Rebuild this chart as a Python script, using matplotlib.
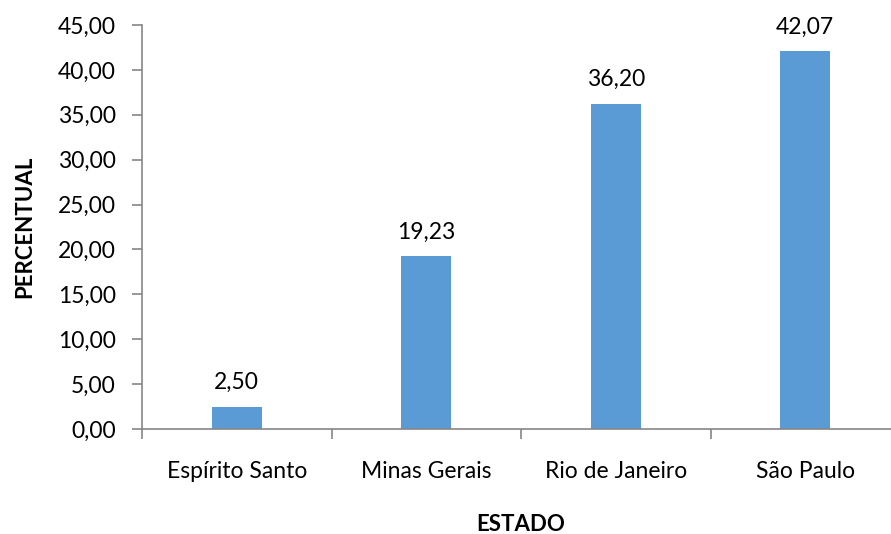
import matplotlib
matplotlib.use('Agg')
import matplotlib.pyplot as plt
from matplotlib.ticker import FixedLocator, FuncFormatter

plt.rcParams['font.family'] = ['Lato', 'DejaVu Sans']

estados = ['Espírito Santo', 'Minas Gerais', 'Rio de Janeiro', 'São Paulo']
percentual = [2.50, 19.23, 36.20, 42.07]

BAR_COLOR = '#5B9BD5'
AXIS_COLOR = '#868686'
FS = 16.5


def br(v, pos=None):
    return f'{v:.2f}'.replace('.', ',')


fig = plt.figure(figsize=(8.91, 5.34), dpi=100)
ax = fig.add_axes([142 / 891, 1 - 429 / 534, 758 / 891, 404 / 534])

x = list(range(len(estados)))
bars = ax.bar(x, percentual, width=0.263, color=BAR_COLOR)

# value labels above bars
for bar, val in zip(bars, percentual):
    ax.annotate(br(val), (bar.get_x() + bar.get_width() / 2, val),
                xytext=(0, 10), textcoords='offset points',
                ha='center', va='bottom', fontsize=FS, color='black')

ax.set_xlim(-0.5, 3.5)
ax.set_ylim(0, 45)
ax.set_yticks([i * 5 for i in range(10)])
ax.yaxis.set_major_formatter(FuncFormatter(br))
ax.set_xticks(x)
ax.set_xticklabels(estados)
ax.xaxis.set_minor_locator(FixedLocator([-0.5, 0.5, 1.5, 2.5, 3.5]))

for side in ['top', 'right']:
    ax.spines[side].set_visible(False)
for side in ['left', 'bottom']:
    ax.spines[side].set_color(AXIS_COLOR)
    ax.spines[side].set_linewidth(1.2)

ax.tick_params(axis='y', length=7, width=1.2, color=AXIS_COLOR, labelsize=FS, pad=12)
ax.tick_params(axis='x', which='major', length=0, labelsize=FS, pad=23)
ax.tick_params(axis='x', which='minor', length=7, width=1.2, color=AXIS_COLOR)

ax.set_ylabel('PERCENTUAL', fontsize=FS - 0.5, fontweight='bold', labelpad=16)
ax.set_xlabel('ESTADO', fontsize=FS - 0.5, fontweight='bold', labelpad=23)

fig.savefig('out.png', dpi=100)
